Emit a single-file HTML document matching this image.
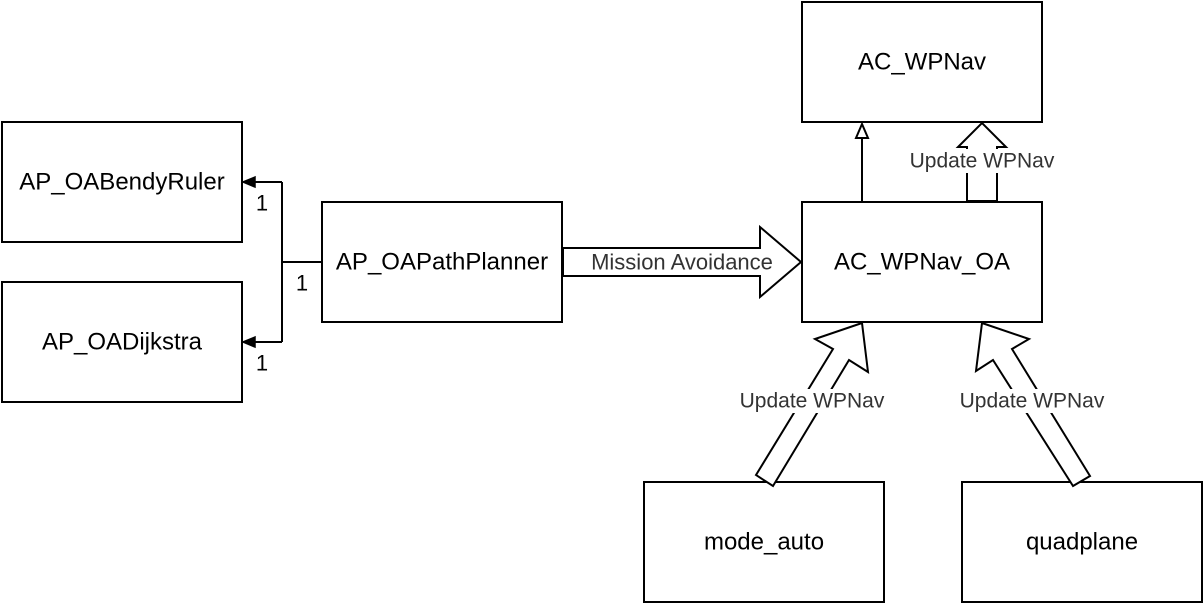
<!DOCTYPE html>
<html><head><style>
html,body{margin:0;padding:0;background:#fff;}
svg{display:block;font-family:"Liberation Sans",sans-serif;}
</style></head><body>
<svg width="1204" height="606" viewBox="0 0 1204 606" xmlns="http://www.w3.org/2000/svg">
<g fill="#fff" stroke="#000" stroke-width="2">
<rect x="802" y="2" width="240" height="120"/>
<rect x="2" y="122" width="240" height="120"/>
<rect x="2" y="282" width="240" height="120"/>
<rect x="322" y="202" width="240" height="120"/>
<rect x="802" y="202" width="240" height="120"/>
<rect x="644" y="482" width="240" height="120"/>
<rect x="962" y="482" width="240" height="120"/>
</g>
<g font-size="24" fill="#000" text-anchor="middle" dominant-baseline="central">
<text x="922" y="62">AC_WPNav</text>
<text x="122" y="182">AP_OABendyRuler</text>
<text x="122" y="342">AP_OADijkstra</text>
<text x="442" y="262">AP_OAPathPlanner</text>
<text x="922" y="262">AC_WPNav_OA</text>
<text x="764" y="542">mode_auto</text>
<text x="1082" y="542">quadplane</text>
</g>
<path d="M322 262 H282 M282 182 V342 M282 182 H252 M282 342 H252" stroke="#000" stroke-width="2" fill="none"/>
<polygon points="243,182 255,177 255,187" fill="#000" stroke="#000" stroke-width="1.5"/>
<polygon points="243,342 255,337 255,347" fill="#000" stroke="#000" stroke-width="1.5"/>
<g font-size="22" fill="#000" text-anchor="middle" dominant-baseline="central">
<text x="262" y="203">1</text>
<text x="262" y="363">1</text>
<text x="302" y="283">1</text>
</g>
<polygon points="563,248 760,248 760,227 801,262 760,297 760,276 563,276" fill="#fff" stroke="#000" stroke-width="2"/>
<text x="682" y="262" font-size="22" fill="#333" text-anchor="middle" dominant-baseline="central">Mission Avoidance</text>
<line x1="862" y1="202" x2="862" y2="138" stroke="#000" stroke-width="2"/>
<polygon points="862,124 856,138 868,138" fill="#fff" stroke="#000" stroke-width="2"/>
<polygon points="967,201 967,147 958,147 982,123 1006,147 997,147 997,201" fill="#fff" stroke="#000" stroke-width="2"/>
<polygon points="756,475 833,349 815,339 862,323 868,372 849,360 773,486" fill="#fff" stroke="#000" stroke-width="2"/>
<polygon points="1073,486 993,360 976,371 982,323 1029,339 1012,349 1090,476" fill="#fff" stroke="#000" stroke-width="2"/>
<g font-size="21" fill="#333" text-anchor="middle" dominant-baseline="central">
<rect x="905" y="149" width="154" height="24" fill="#fff"/>
<text x="982" y="161">Update WPNav</text>
<rect x="735" y="389" width="154" height="24" fill="#fff"/>
<text x="812" y="401">Update WPNav</text>
<rect x="955" y="389" width="154" height="24" fill="#fff"/>
<text x="1032" y="401">Update WPNav</text>
</g>
</svg>
</body></html>
